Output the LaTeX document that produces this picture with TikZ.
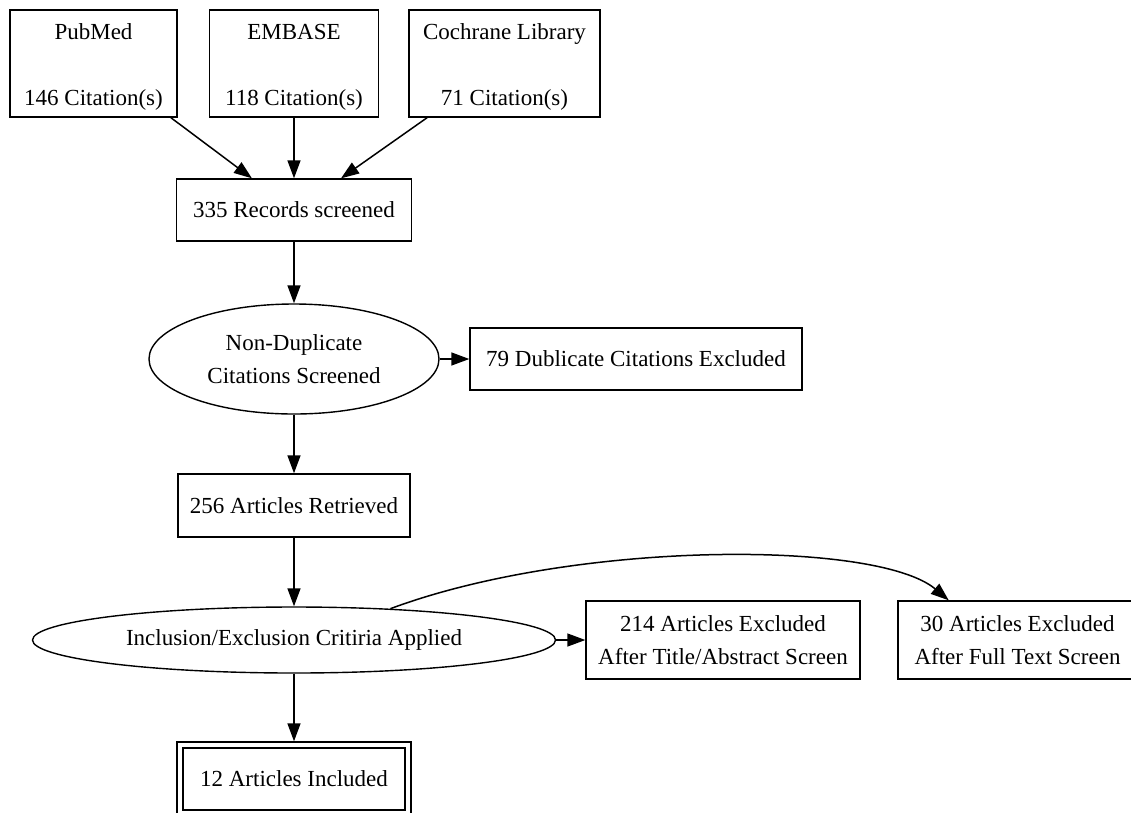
\documentclass[tikz,border=0pt]{standalone}
\usepackage{fontspec}
\setmainfont{Liberation Serif}
\usetikzlibrary{arrows.meta,shapes.geometric}
\begin{document}
\begin{tikzpicture}[x=1pt,y=-1pt,
  txt/.style={align=center, font=\fontsize{23}{33}\selectfont},
  box/.style={draw, rectangle, line width=1.4pt, inner sep=0pt, txt},
  oval/.style={draw, ellipse, line width=1.4pt, inner sep=0pt, txt},
  arr/.style={line width=1.5pt, -{Triangle[length=18pt,width=13pt]}}]
\useasboundingbox (0,0) rectangle (1131,812);
\clip (0,0) rectangle (1131,812);

\node[box, minimum width=167pt, minimum height=107pt] (pub) at (93.5,63.5) {\strut PubMed\\[33pt]146 Citation(s)};
\node[box, minimum width=169pt, minimum height=107pt] (emb) at (294,63.5) {\strut EMBASE\\[33pt]118 Citation(s)};
\node[box, minimum width=191pt, minimum height=107pt] (coch) at (504.5,63.5) {\strut Cochrane Library\\[33pt]71 Citation(s)};

\node[box, minimum width=235pt, minimum height=62pt] (rec) at (294,210) {335 Records screened};

\node[oval, minimum width=290pt, minimum height=110pt] (nd) at (294,359) {Non-Duplicate\\Citations Screened};
\node[box, minimum width=332pt, minimum height=62pt] (dup) at (636,359) {79 Dublicate Citations Excluded};

\node[box, minimum width=232pt, minimum height=63pt] (art) at (294,505.5) {256 Articles Retrieved};

\node[oval, minimum width=523pt, minimum height=66pt] (incl) at (294,640) {Inclusion/Exclusion Critiria Applied};
\node[box, minimum width=274pt, minimum height=78pt] (ta) at (723,640) {214 Articles Excluded\\After Title/Abstract Screen};
\node[box, minimum width=239pt, minimum height=78pt] (ft) at (1017.5,640) {30 Articles Excluded\\After Full Text Screen};

\node[box, minimum width=234pt, minimum height=74pt] (inc) at (294,779) {};
\node[box, minimum width=222pt, minimum height=62pt] (incin) at (294,779) {12 Articles Included};

\draw[arr] (pub.-35.7) -- (rec.143.9);
\draw[arr] (emb) -- (rec);
\draw[arr] (coch.-145.4) -- (rec.34.9);
\draw[arr] (rec) -- (nd);
\draw[arr] (nd) -- (dup);
\draw[arr] (nd) -- (art);
\draw[arr] (art) -- (incl);
\draw[arr] (incl) -- (ta);
\draw[arr] (incl.18.7) .. controls (575,540) and (877,540) .. (ft.150);
\draw[arr] (incl) -- (inc);
\end{tikzpicture}
\end{document}
